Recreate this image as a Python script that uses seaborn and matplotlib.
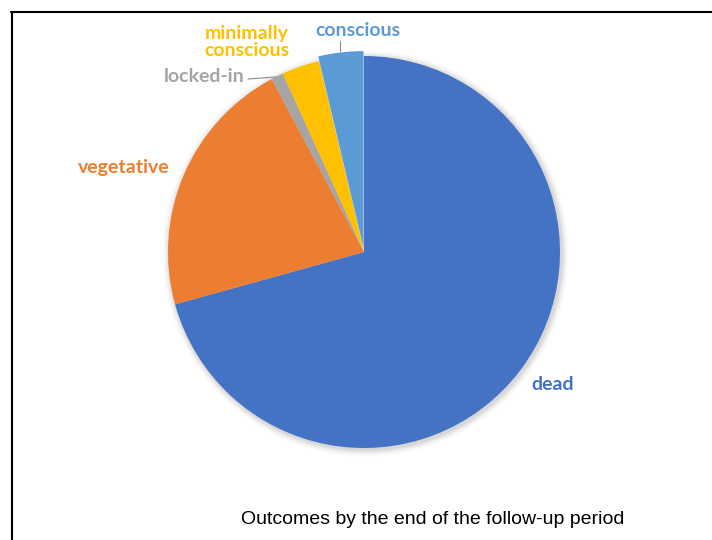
import matplotlib
matplotlib.use("Agg")
import matplotlib.pyplot as plt
from matplotlib.lines import Line2D
from matplotlib.patches import Circle
import seaborn as sns

# Outcome shares (%) at the end of follow-up, in clockwise order from 12 o'clock
categories = ["dead", "vegetative", "locked-in", "minimally\nconscious", "conscious"]
shares = [70.7, 21.5, 1.0, 3.1, 3.7]
colors = ["#4472C4", "#ED7D31", "#A5A5A5", "#FFC000", "#5B9BD5"]
explode = [0, 0, 0, 0, 0.025]
title = "Outcomes by the end of the follow-up period"

sns.set_theme(style="white")
plt.rcParams["font.family"] = ["Lato", "DejaVu Sans"]

W, H = 712, 540
fig = plt.figure(figsize=(W / 100, H / 100), dpi=100)
fig.patch.set_facecolor("white")

# Pie axes: centre (364, 252) px, radius 196 px
cx, cy, r = 364, 252, 196
lim = 1.3
side = 2 * lim * r
ax = fig.add_axes([(cx - lim * r) / W, (H - cy - lim * r) / H, side / W, side / H])

wedges, _ = ax.pie(shares, colors=colors, startangle=90, counterclock=False,
                   explode=explode, radius=1.0,
                   wedgeprops=dict(linewidth=0, zorder=2))
ax.set_xlim(-lim, lim)
ax.set_ylim(-lim, lim)
ax.set_aspect("equal")
ax.axis("off")

# soft shadow around the pie
for k, a in zip(range(1, 7), [0.10, 0.08, 0.06, 0.045, 0.03, 0.02]):
    ax.add_patch(Circle((0.008, -0.008), 1.0 + k * 0.006, color="#7f7f7f",
                        alpha=a, lw=0, zorder=0))

def px(x, y):
    return ((x - cx) / r, (cy - y) / r)

lab_style = dict(fontsize=14, fontweight="bold", ha="center", va="center")
label_pos = [(553, 385), (124, 168), (204, 77), (247, 42), (358, 30)]
for name, col, (x, y) in zip(categories, colors, label_pos):
    tx, ty = px(x, y)
    ax.text(tx, ty, name, color=col, linespacing=1.0, **lab_style)

# leader lines
for (x0, y0), (x1, y1) in [((248, 79), (276, 77)), ((340, 41), (340, 51))]:
    (a0, b0), (a1, b1) = px(x0, y0), px(x1, y1)
    ax.plot([a0, a1], [b0, b1], color="#8c8c8c", lw=0.8, zorder=3)

fig.text(433 / W, 1 - 520 / H, title, ha="center", va="center",
         fontsize=14, family=["Liberation Sans", "DejaVu Sans"], color="black")

# frame edges at top and left
fig.add_artist(Line2D([11 / W, 1], [1 - 11.5 / H, 1 - 11.5 / H], color="black", lw=1.5))
fig.add_artist(Line2D([11.5 / W, 11.5 / W], [0, 1 - 11.5 / H], color="black", lw=1.5))

fig.savefig("out.png", dpi=100, facecolor="white")
